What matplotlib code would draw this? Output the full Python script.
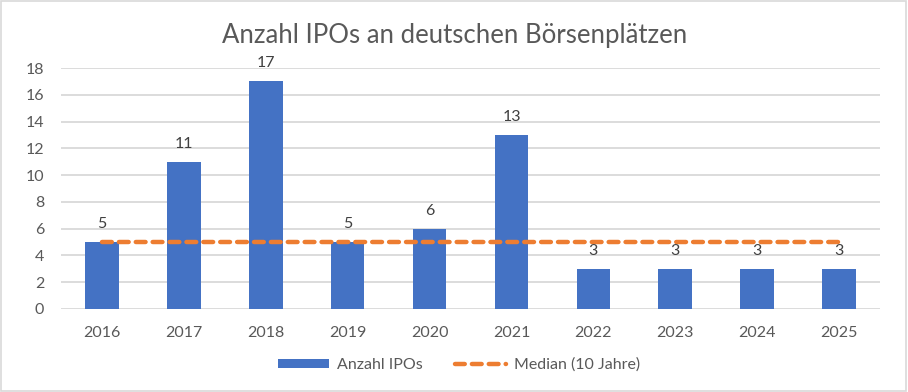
import numpy as np
import matplotlib.pyplot as plt
from matplotlib.patches import Rectangle

years = ['2016', '2017', '2018', '2019', '2020', '2021', '2022', '2023', '2024', '2025']
ipos = [5, 11, 17, 5, 6, 13, 3, 3, 3, 3]
median = [5] * len(years)

blue = '#4472C4'
orange = '#ED7D31'
grey = '#595959'

plt.rcParams['font.family'] = ['Lato', 'DejaVu Sans']

fig = plt.figure(figsize=(9.08, 3.92), dpi=100)
ax = fig.add_axes([61 / 908, 1 - 309 / 392, (880 - 61) / 908, (309 - 68) / 392])

x = np.arange(len(years))
bars = ax.bar(x, ipos, width=0.41, color=blue, label='Anzahl IPOs', zorder=2)
line, = ax.plot(x, median, color=orange, lw=3.2, ls=(0, (2.2, 1.6)), dash_capstyle='round',
                label='Median (10 Jahre)', zorder=3)

for xi, v in zip(x, ipos):
    ax.annotate(str(v), (xi, v), xytext=(0, 13), textcoords='offset points',
                ha='center', va='center', fontsize=11.5, color='#404040')

ax.set_xlim(-0.5, len(years) - 0.5)
ax.set_ylim(0, 18)
ax.set_yticks(range(0, 19, 2))
ax.set_xticks(x, years)
ax.grid(axis='y', color='#D9D9D9', lw=1.3, zorder=0)
for s in ax.spines.values():
    s.set_visible(False)
ax.tick_params(length=0, labelsize=11.5, colors=grey)
ax.tick_params(axis='x', pad=12)
ax.tick_params(axis='y', pad=12)

fig.text(455 / 908, 1 - 35 / 392, 'Anzahl IPOs an deutschen Börsenplätzen',
         ha='center', va='center', fontsize=18.5, color=grey)

fig.legend([bars, line], ['Anzahl IPOs', 'Median (10 Jahre)'], loc='center',
           bbox_to_anchor=(459 / 908, 1 - 365 / 392), ncol=2,
           frameon=False, fontsize=11.5, labelcolor=grey, handlelength=3.2,
           handletextpad=0.5, columnspacing=2.0, handleheight=0.45)

fig.patches.append(Rectangle((0.001, 0.002), 0.997, 0.995, transform=fig.transFigure,
                             fill=False, ec='#D9D9D9', lw=1.2))

fig.savefig('out.png', dpi=100)
